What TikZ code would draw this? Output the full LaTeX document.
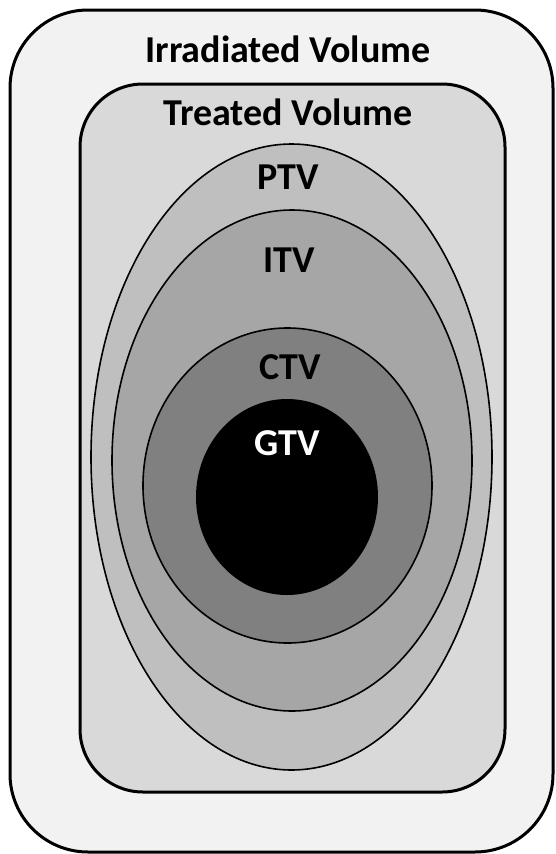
\documentclass[tikz,border=0pt]{standalone}
\usepackage{fontspec}
\setmainfont{Carlito}
\begin{document}
\begin{tikzpicture}[x=1pt,y=-1pt,
  lbl/.style={anchor=base,font=\fontsize{38}{42}\selectfont\bfseries,inner sep=0pt},
  box/.style={draw=black,line width=3pt},
  ring/.style={draw=black,line width=1.6pt}]
\useasboundingbox (0,0) rectangle (556,854);
\definecolor{c1}{HTML}{F2F2F2}
\definecolor{c2}{HTML}{D9D9D9}
\definecolor{c3}{HTML}{BFBFBF}
\definecolor{c4}{HTML}{A6A6A6}
\definecolor{c5}{HTML}{808080}
\draw[box,fill=c1,rounded corners=78pt] (10,10) rectangle (553,852);
\draw[box,fill=c2,rounded corners=63pt] (80,84) rectangle (505,792);
\draw[ring,fill=c3] (291.5,457) ellipse [x radius=200.5,y radius=313];
\draw[ring,fill=c4] (292,460.5) ellipse [x radius=180,y radius=250.5];
\draw[ring,fill=c5] (287.5,485.5) ellipse [x radius=144.5,y radius=157.5];
\fill[black] (287,497) ellipse [x radius=91,y radius=98];
\node[lbl] (irr) at (288,62) {Irradiated Volume};
\node[lbl] (trt) at (288,125) {Treated Volume};
\node[lbl] (ptv) at (288,189) {PTV};
\node[lbl] (itv) at (289,272) {ITV};
\node[lbl] (ctv) at (290,379) {CTV};
\node[lbl,text=white] (gtv) at (287,455) {GTV};
\end{tikzpicture}
\end{document}
